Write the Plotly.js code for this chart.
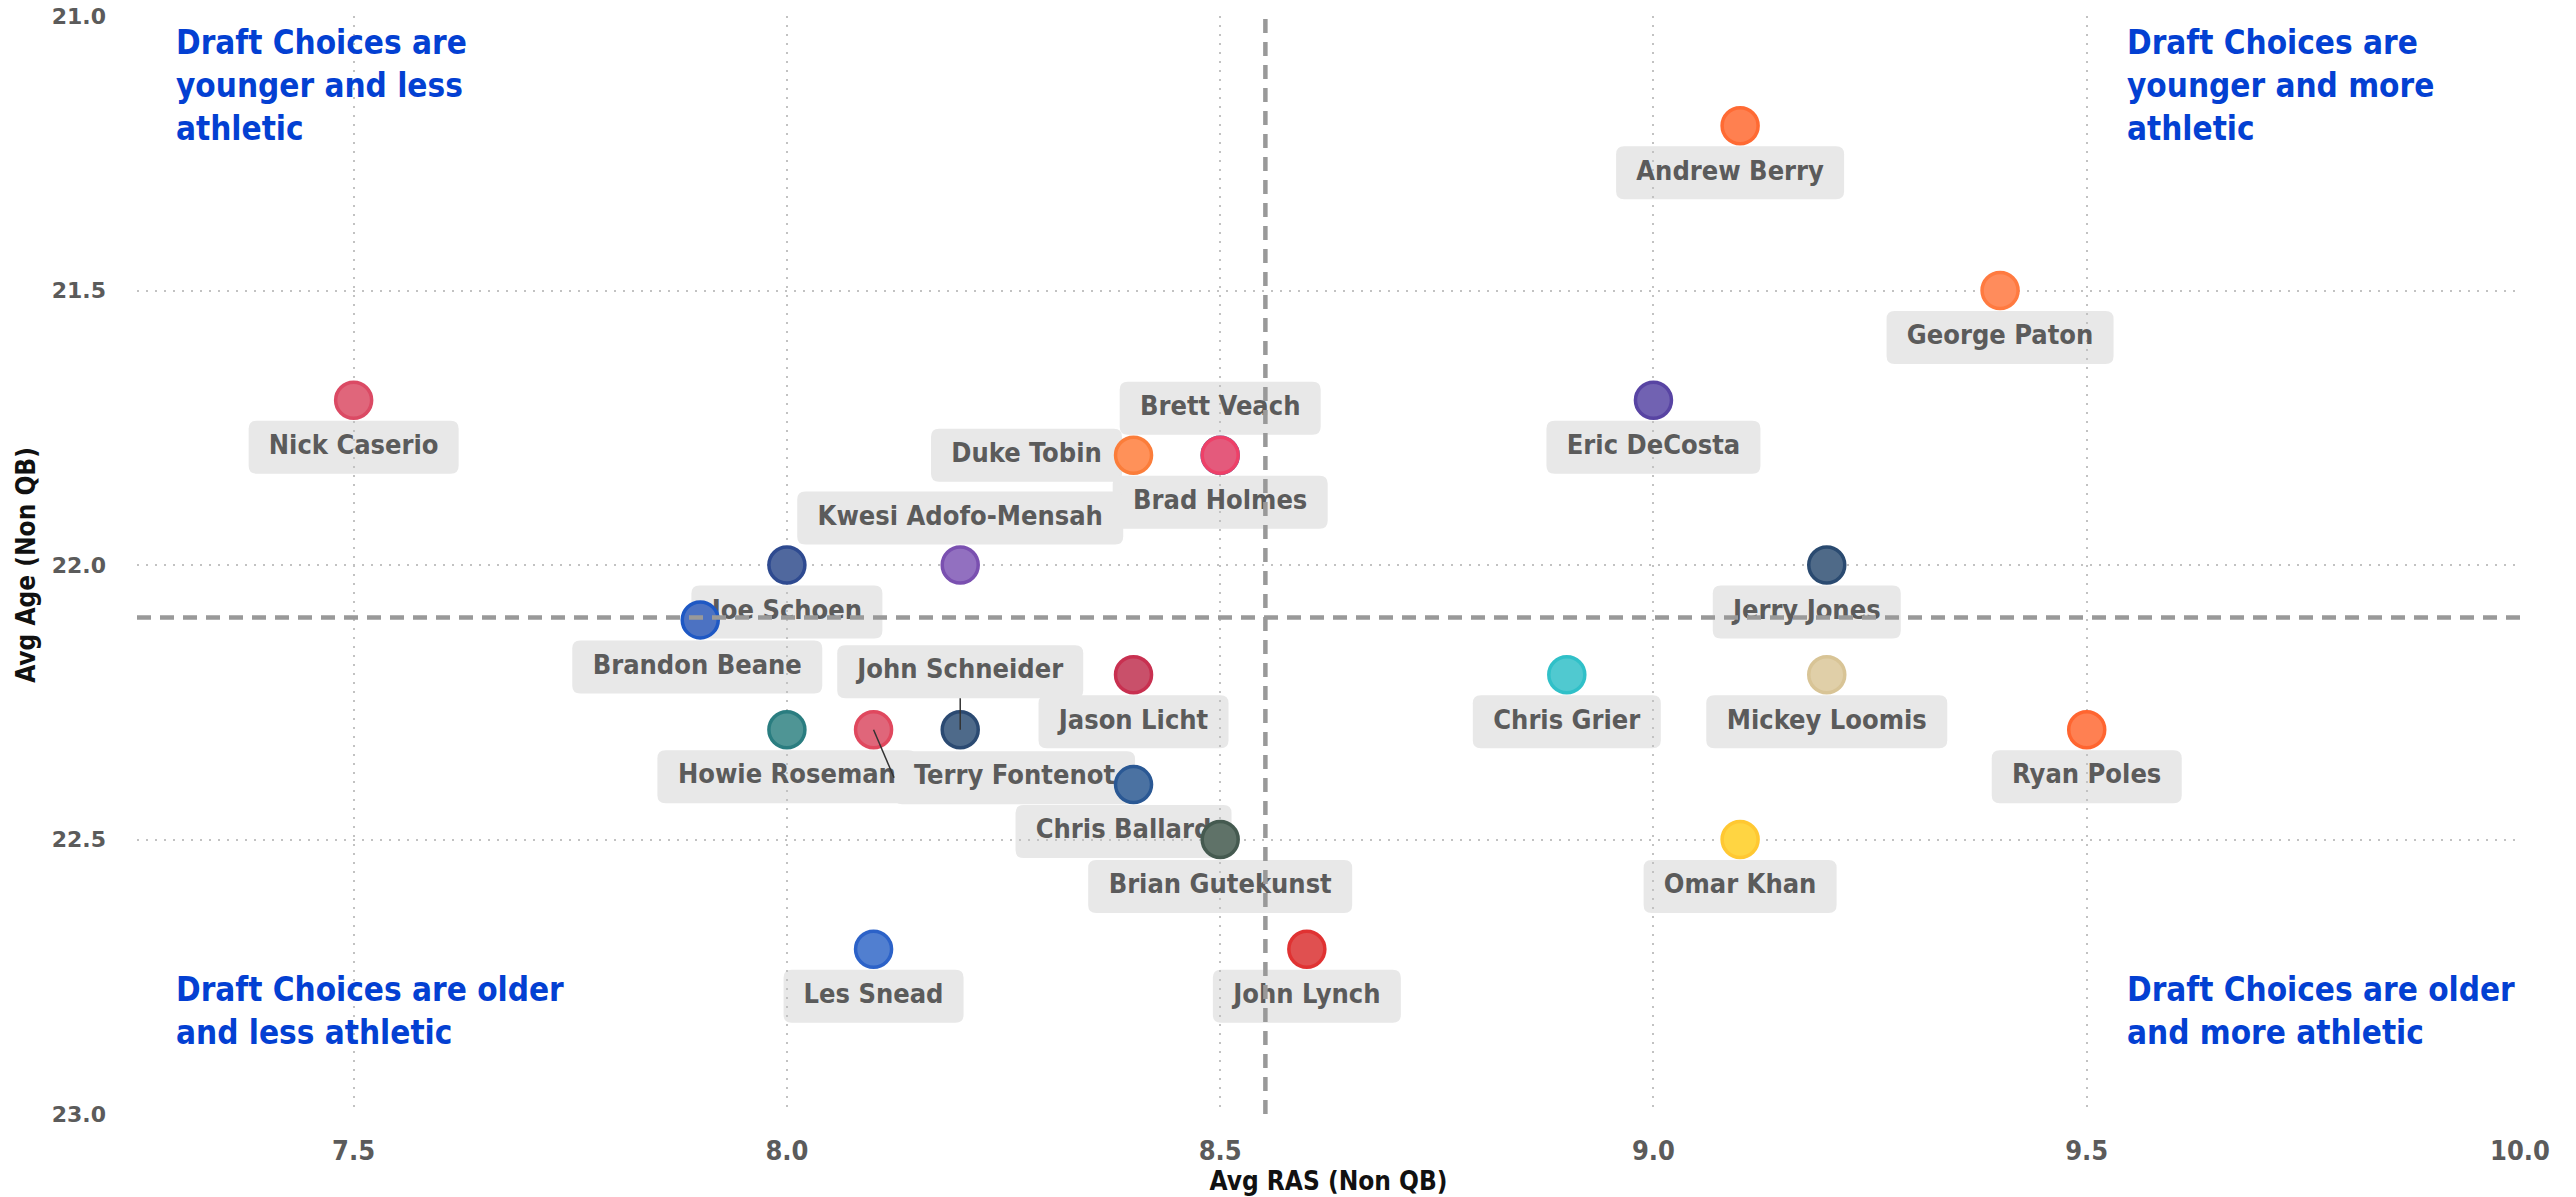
<!DOCTYPE html>
<html>
<head>
<meta charset="utf-8">
<script src="https://cdn.plot.ly/plotly-3.0.1.min.js"></script>
<style>
html,body{margin:0;padding:0;background:#fff;}
#chart{width:2576px;height:1197px;}
</style>
</head>
<body>
<div id="chart"></div>
<script>
// ---- data ----
const gmNames = ["Andrew Berry","George Paton","Nick Caserio","Eric DeCosta","Duke Tobin",
  "Brad Holmes","Brett Veach","Kwesi Adofo-Mensah","Joe Schoen","Brandon Beane",
  "Howie Roseman","Terry Fontenot","John Schneider","Jason Licht","Chris Ballard",
  "Brian Gutekunst","Les Snead","John Lynch","Chris Grier","Jerry Jones",
  "Mickey Loomis","Ryan Poles","Omar Khan"];
const avgRAS = [9.1, 9.4, 7.5, 9.0, 8.4,
  8.5, 8.5, 8.2, 8.0, 7.9,
  8.0, 8.1, 8.2, 8.4, 8.4,
  8.5, 8.1, 8.6, 8.9, 9.2,
  9.2, 9.5, 9.1];
const avgAge = [21.2, 21.5, 21.7, 21.7, 21.8,
  21.8, 21.8, 22.0, 22.0, 22.1,
  22.3, 22.3, 22.3, 22.2, 22.4,
  22.5, 22.7, 22.7, 22.2, 22.0,
  22.2, 22.3, 22.5];
const xTicks = [7.5, 8.0, 8.5, 9.0, 9.5, 10.0];
const yTicks = [21.0, 21.5, 22.0, 22.5, 23.0];
const quadrantTexts = [
  "Draft Choices are<br>younger and less<br>athletic",
  "Draft Choices are<br>younger and more<br>athletic",
  "Draft Choices are older<br>and less athletic",
  "Draft Choices are older<br>and more athletic"
];

// ---- styles ----
const fillColors = ["#FF8050","#FF8C5C","#E0667B","#7162B2","#FF9159",
  "#4F8FD0","#E45A7C","#9270C0","#50689E","#4C72C2",
  "#4F9595","#E0667A","#4E6A8A","#C9506A","#4B72A2",
  "#5F7268","#517FD0","#E05050","#50C9D0","#4F6A88",
  "#E0CFA8","#FF8052","#FFD542"];
const lineColors = ["#FF6A33","#FF7A40","#DB4A64","#5844A3","#FB7D3A",
  "#1F76B6","#EE4068","#7A50B0","#2E4A90","#1E58C4",
  "#2A7D80","#E0485E","#2B4A72","#C83050","#2A5894",
  "#455A50","#2C62C8","#E03232","#30C0C8","#2A4A70",
  "#D8C496","#FF6530","#FFC832"];
// label placement (pixel offsets of label centre from point): [dx, dy(up positive), connector]
const labelPlace = [[-10,-47,0],[0,-47,0],[0,-47,0],[0,-47,0],[-107,0,0],
  [0,-47,0],[0,47,0],[0,47,0],[0,-47,0],[-3,-47,0],
  [0,-47,0],[141,-48,1],[0,58,1],[0,-47,0],[-10,-47,0],
  [0,-47,0],[0,-47,0],[0,-47,0],[0,-47,0],[-20,-47,0],
  [0,-47,0],[0,-47,0],[0,-47,0]];

const labelFont = "'DejaVu Sans Condensed','Liberation Sans Narrow','Roboto',sans-serif";
const labelSize = 27;
const W = 2576, H = 1197;
const M = {l:137, r:56, t:16, b:83};
const xRange = [7.25, 10.0], yRange = [23.0, 21.0];
const pxX = (W - M.l - M.r) / (xRange[1] - xRange[0]);
const pxY = (H - M.t - M.b) / (yRange[0] - yRange[1]);

const cv = document.createElement('canvas').getContext('2d');
cv.font = "bold " + labelSize + "px " + labelFont;

const meanX = avgRAS.reduce((a,b)=>a+b,0)/avgRAS.length;
const meanY = avgAge.reduce((a,b)=>a+b,0)/avgAge.length;

function roundRect(x0, x1, y0, y1, r) {
  return `M${x0+r},${y0} L${x1-r},${y0} Q${x1},${y0} ${x1},${y0+r} L${x1},${y1-r} Q${x1},${y1} ${x1-r},${y1} ` +
         `L${x0+r},${y1} Q${x0},${y1} ${x0},${y1-r} L${x0},${y0+r} Q${x0},${y0} ${x0+r},${y0} Z`;
}

const shapes = [];
const textX = [], textY = [];
const boxH = 53;
gmNames.forEach((n,i)=>{
  const p = labelPlace[i];
  const w = Math.ceil(cv.measureText(n).width) + 40;
  shapes.push({
    type:'path', xref:'x', yref:'y', xsizemode:'pixel', ysizemode:'pixel',
    xanchor: avgRAS[i], yanchor: avgAge[i],
    path: roundRect(p[0]-w/2, p[0]+w/2, p[1]-boxH/2, p[1]+boxH/2, 8),
    fillcolor:'#e8e8e8', line:{width:0}, layer:'below'
  });
  textX.push(avgRAS[i] + p[0]/pxX);
  textY.push(avgAge[i] - p[1]/pxY);
  if (p[2]) {
    let ex, ey;
    if (p[0] === 0) { ex = 0; ey = p[1] - Math.sign(p[1])*boxH/2; }
    else { ex = p[0] - Math.sign(p[0])*w/2; ey = p[1]; }
    shapes.push({type:'line', xref:'x', yref:'y', xsizemode:'pixel', ysizemode:'pixel',
      xanchor: avgRAS[i], yanchor: avgAge[i], x0:0, y0:0, x1:ex, y1:ey,
      line:{color:'#333', width:1.5}, layer:'above'});
  }
});

shapes.push(
  {type:'line', xref:'x', yref:'paper', x0:meanX, x1:meanX, y0:0, y1:1,
   line:{color:'#999', width:4.5, dash:'14px,9px'}, layer:'above'},
  {type:'line', xref:'paper', yref:'y', x0:0, x1:1, y0:meanY, y1:meanY,
   line:{color:'#999', width:4.5, dash:'14px,9px'}, layer:'above'}
);

const annotations = [];
const qFont = {family: labelFont, size: 33, color: '#0340D2', weight: 'bold'};
const qPos = [[7.293, 21.01, 'top'], [9.544, 21.01, 'top'], [7.293, 22.89, 'bottom'], [9.544, 22.89, 'bottom']];
quadrantTexts.forEach((t,i)=>{
  annotations.push({x:qPos[i][0], y:qPos[i][1], xref:'x', yref:'y', text:t, showarrow:false,
    xanchor:'left', yanchor:qPos[i][2], align:'left', font:qFont});
});

const labelTrace = {
  type:'scatter', mode:'text', x:textX, y:textY, text:gmNames,
  textposition:'middle center', hoverinfo:'skip',
  textfont:{family:labelFont, size:labelSize, color:'#5b5b5b', weight:'bold'}
};
const pointTrace = {
  type:'scatter', mode:'markers',
  x: avgRAS, y: avgAge, text: gmNames,
  hoverinfo:'text',
  marker:{size:36, color: fillColors, line:{color: lineColors, width: 3.5}}
};

const gridStyle = {showgrid:true, gridcolor:'#c2c2c2', griddash:'2px,7px', gridwidth:2,
  zeroline:false, showline:false, ticks:''};

const layout = {
  width:W, height:H,
  margin:M,
  paper_bgcolor:'#fff', plot_bgcolor:'#fff',
  showlegend:false,
  xaxis:Object.assign({
    range:xRange, tickvals:xTicks, tickformat:'.1f',
    tickfont:{family:labelFont, size:27, color:'#5b5b5b', weight:'bold'},
    ticklabelstandoff: 18,
    title:{text:'Avg RAS (Non QB)', font:{family:labelFont, size:26, color:'#111', weight:'bold'}, standoff: 4}
  }, gridStyle),
  yaxis:Object.assign({
    range:yRange, tickvals:yTicks, tickformat:'.1f',
    tickfont:{family:"'DejaVu Sans',sans-serif", size:22, color:'#5b5b5b', weight:'bold'},
    ticklabelstandoff: 30,
    title:{text:'Avg Age (Non QB)', font:{family:labelFont, size:26, color:'#111', weight:'bold'}, standoff: 8}
  }, gridStyle),
  shapes: shapes,
  annotations: annotations
};

Plotly.newPlot('chart', [labelTrace, pointTrace], layout, {displayModeBar:false, staticPlot:true});
</script>
</body>
</html>
